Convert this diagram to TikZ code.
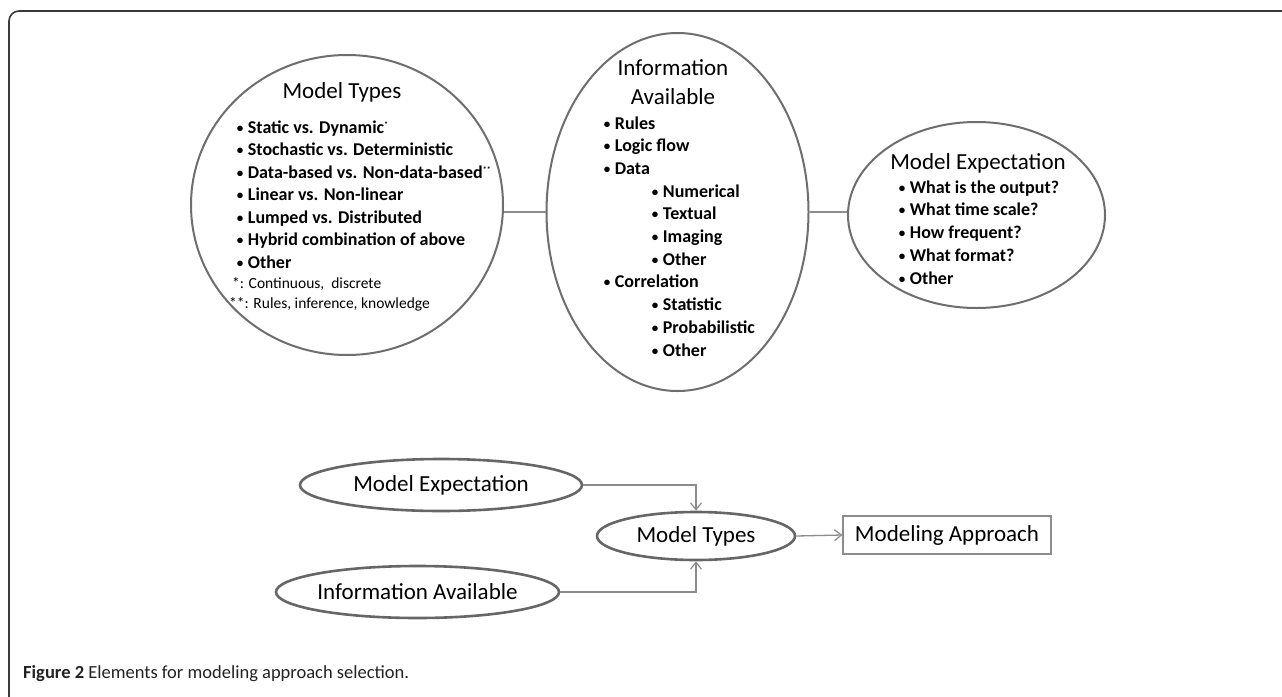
\documentclass[tikz,border=0pt]{standalone}
\usepackage{fontspec}
\setmainfont{Carlito}
\usetikzlibrary{shapes.geometric,arrows.meta}
\definecolor{ellgray}{HTML}{6E6E6E}
\definecolor{ellgrayb}{HTML}{666666}
\definecolor{conngray}{HTML}{8C8C8C}
\definecolor{framecol}{HTML}{3A3A3A}
\definecolor{capcol}{HTML}{222222}
\newcommand\bul{\makebox[11pt][l]{\fontsize{13}{13}\selectfont\raisebox{1pt}{•}}}
\newcommand\supst[1]{\raisebox{6pt}{\fontsize{8}{8}\selectfont #1}}
\begin{document}
\begin{tikzpicture}[x=1pt,y=-1pt,
  bigell/.style={draw=ellgray, line width=2pt, ellipse, inner sep=0pt},
  smallell/.style={draw=ellgrayb, line width=2.6pt, ellipse, inner sep=0pt, font=\fontsize{23}{28}\selectfont},
  boxnode/.style={draw=conngray, line width=1.3pt, rectangle, inner sep=0pt, font=\fontsize{23}{28}\selectfont},
  conn/.style={draw=conngray, line width=1.3pt},
  arr/.style={conn, -{Straight Barb[length=7pt,width=11pt,line width=1.2pt]}},
  ttl/.style={font=\fontsize{23}{28}\selectfont, inner sep=0pt, anchor=base},
  itm/.style={font=\fontsize{18}{22}\selectfont\bfseries, inner sep=0pt, anchor=base west},
  fn/.style={font=\fontsize{15.5}{18}\selectfont, inner sep=0pt, anchor=base west},
]
\useasboundingbox (0,0) rectangle (1282,696);
\fill[white] (0,0) rectangle (1282,696);
\draw[framecol, line width=1.6pt, rounded corners=10pt] (9,710) -- (9,11) -- (1295,11);

% top ellipses
\node[bigell, minimum width=312pt, minimum height=300pt] (mtC) at (347,205) {};
\node[bigell, minimum width=262pt, minimum height=358pt] (iaC) at (677.5,212) {};
\node[bigell, minimum width=257pt, minimum height=186pt] (meC) at (976.5,215) {};
\draw[conn] (mtC.east |- iaC.west) -- (iaC.west);
\draw[conn] (iaC.east) -- (iaC.east -| meC.west);

% Model Types text
\node[ttl] (mtT) at (342,98) {Model Types};
\node[itm] (mt1) at (236.7,133) {\bul Static vs. Dynamic\supst{*}};
\node[itm] (mt2l) at (236.7,155.5) {\bul Stochastic vs. Deterministic};
\node[itm] (mt3) at (236.7,178) {\bul Data-based vs. Non-data-based\supst{**}};
\node[itm] (mt4) at (236.7,200.5) {\bul Linear vs. Non-linear};
\node[itm] (mt5) at (236.7,223) {\bul Lumped vs. Distributed};
\node[itm] (mt6) at (236.7,245.5) {\bul Hybrid combination of above};
\node[itm] (mt7) at (236.7,268) {\bul Other};
\node[fn] (mtf1) at (232,288) {*: Continuous,\ \ discrete};
\node[fn] (mtf2) at (229,308) {**: Rules, inference, knowledge};

% Information Available text
\node[ttl] (iaT1) at (673,75) {Information};
\node[ttl] (iaT2) at (673,104) {Available};
\node[itm] (ia1) at (603.7,129) {\bul Rules};
\node[itm] (ia2l) at (603.7,151.7) {\bul Logic flow};
\node[itm] (ia3) at (603.7,174.4) {\bul Data};
\node[itm] (ia4) at (651.7,197.1) {\bul Numerical};
\node[itm] (ia5) at (651.7,219.8) {\bul Textual};
\node[itm] (ia6) at (651.7,242.5) {\bul Imaging};
\node[itm] (ia7) at (651.7,265.2) {\bul Other};
\node[itm] (ia8) at (603.7,287.9) {\bul Correlation};
\node[itm] (ia9) at (651.7,310.6) {\bul Statistic};
\node[itm] (ia10) at (651.7,333.3) {\bul Probabilistic};
\node[itm] (ia11) at (651.7,356) {\bul Other};

% Model Expectation text
\node[ttl] (meT) at (978,169) {Model Expectation};
\node[itm] (me1) at (898.7,193) {\bul What is the output?};
\node[itm] (me2l) at (898.7,215.75) {\bul What time scale?};
\node[itm] (me3) at (898.7,238.5) {\bul How frequent?};
\node[itm] (me4) at (898.7,261.25) {\bul What format?};
\node[itm] (me5) at (898.7,284) {\bul Other};

% bottom flow
\node[smallell, minimum width=282pt, minimum height=52pt] (meB) at (441,485) {Model Expectation};
\node[smallell, minimum width=198pt, minimum height=48pt] (mtB) at (696,536) {Model Types};
\node[smallell, minimum width=239pt, minimum height=52pt] (iaB) at (417.5,592) {Information Available};
\node[boxnode, minimum width=208pt, minimum height=38pt] (maB) at (947,535) {Modeling Approach};
\draw[arr] (meB.east) -| (mtB.north);
\draw[arr] (iaB.east) -| (mtB.south);
\draw[arr] (mtB.east) -- (maB.west);

% caption
\node[anchor=base west, inner sep=0pt, font=\fontsize{18.5}{22}\selectfont, text=capcol] (cap) at (23,678) {\textbf{Figure 2} Elements for modeling approach selection.};
\end{tikzpicture}
\end{document}
